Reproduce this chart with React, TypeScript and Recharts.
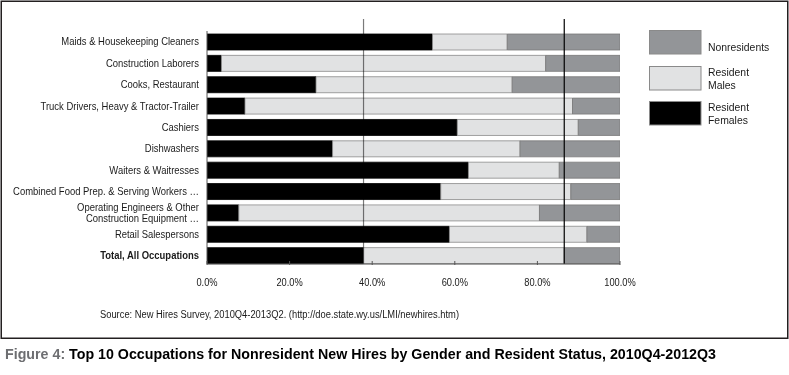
import React from "react";
import { BarChart, Bar, XAxis, YAxis, ReferenceLine } from "recharts";

const categories = [
  "Maids & Housekeeping Cleaners",
  "Construction Laborers",
  "Cooks, Restaurant",
  "Truck Drivers, Heavy & Tractor-Trailer",
  "Cashiers",
  "Dishwashers",
  "Waiters & Waitresses",
  "Combined Food Prep. & Serving Workers \u2026",
  "Operating Engineers & Other \nConstruction Equipment \u2026",
  "Retail Salespersons",
  "Total, All Occupations",
];

const residentFemales = [54.6, 3.5, 26.4, 9.2, 60.6, 30.4, 63.3, 56.6, 7.7, 58.7, 37.9];
const residentMales = [18.1, 78.5, 47.5, 79.3, 29.3, 45.4, 22.0, 31.5, 72.8, 33.3, 48.6];
const nonresidents = [27.3, 18.0, 26.1, 11.5, 10.1, 24.2, 14.7, 11.9, 19.5, 8.0, 13.5];

const xTicks = [0, 20, 40, 60, 80, 100];

const series = [
  { key: "females", name: "Resident Females", color: "#000000", stroke: "#000000" },
  { key: "males", name: "Resident Males", color: "#e1e2e3", stroke: "#8a8a8a" },
  { key: "nonres", name: "Nonresidents", color: "#939598", stroke: "#7a7a7a" },
];

const legendOrder = [
  { name: "Nonresidents", lines: ["Nonresidents"], color: "#939598" },
  { name: "Resident Males", lines: ["Resident", "Males"], color: "#e1e2e3" },
  { name: "Resident Females", lines: ["Resident", "Females"], color: "#000000" },
];

const data = categories.map((c, i) => ({
  category: c,
  females: residentFemales[i],
  males: residentMales[i],
  nonres: nonresidents[i],
}));

const lastIdx = categories.length - 1;
const totalFemale = residentFemales[lastIdx];
const totalResident = residentFemales[lastIdx] + residentMales[lastIdx];

const FONT = "'Liberation Sans', Arial, sans-serif";
const SX = 0.845;

const YTick = (props: any) => {
  const { x, y, payload, index } = props;
  const lines: string[] = String(payload.value).split("\n");
  const bold = index === lastIdx || payload.value === "Total, All Occupations";
  const lh = 11.5;
  const start = -((lines.length - 1) * lh) / 2;
  return (
    <g transform={`translate(${x},${y})`}>
      <g transform={`scale(${SX},1)`}>
        {lines.map((l, i) => (
          <text
            key={i}
            x={0}
            y={start + i * lh}
            textAnchor="end"
            dominantBaseline="central"
            fontFamily={FONT}
            fontSize={11.2}
            fontWeight={bold ? 700 : 400}
            fill="#1a1a1a"
          >
            {l}
          </text>
        ))}
      </g>
    </g>
  );
};

const XTick = (props: any) => {
  const { x, y, payload } = props;
  return (
    <g transform={`translate(${x},${y})`}>
      <line x1={0} x2={0} y1={-11} y2={-7} stroke="#555" strokeWidth={1} />
      <g transform={`scale(${SX},1)`}>
        <text
          x={0}
          y={10}
          textAnchor="middle"
          dominantBaseline="central"
          fontFamily={FONT}
          fontSize={11}
          fill="#1a1a1a"
        >
          {Number(payload.value).toFixed(1) + "%"}
        </text>
      </g>
    </g>
  );
};

const makeRefShape = (color: string, blend: boolean) => (p: any) => {
  const top = Math.min(p.y1, p.y2) - 12;
  const bottom = Math.max(p.y1, p.y2);
  return (
    <line
      x1={p.x1}
      x2={p.x2}
      y1={top}
      y2={bottom}
      stroke={color}
      strokeWidth={1.2}
      style={blend ? { mixBlendMode: "multiply" } : undefined}
    />
  );
};

export default function App() {
  return (
    <div
      style={{
        position: "absolute",
        left: 0,
        top: 0,
        width: 789,
        height: 375,
        background: "#ffffff",
        overflow: "hidden",
      }}
    >
      <svg width={789} height={375} style={{ position: "absolute", left: 0, top: 0 }}>
        <rect x={1.25} y={1.25} width={786.5} height={337} fill="#ffffff" stroke="#231f20" strokeWidth={1.5} />
        {legendOrder.map((item, i) => {
          const tops = [30, 66, 101];
          const t = tops[i];
          return (
            <g key={item.name}>
              <rect x={649.5} y={t + 0.5} width={51.5} height={23.5} fill={item.color} stroke="#8a8a8a" strokeWidth={1} />
              {item.lines.map((l, j) => {
                const n = item.lines.length;
                const cy = t + 12.5 + (j - (n - 1) / 2) * 12.5 + (n === 1 ? 4 : 0);
                return (
                  <g key={j} transform={`translate(708,${cy})`}>
                    <g transform={`scale(0.93,1)`}>
                      <text x={0} y={0} dominantBaseline="central" fontFamily={FONT} fontSize={11.2} fill="#1a1a1a">
                        {l}
                      </text>
                    </g>
                  </g>
                );
              })}
            </g>
          );
        })}
        <text
          x={100}
          y={318}
          fontFamily={FONT}
          fontSize={10}
          fill="#1a1a1a"
          textLength={359}
          lengthAdjust="spacingAndGlyphs"
        >
          Source: New Hires Survey, 2010Q4-2013Q2. (http://doe.state.wy.us/LMI/newhires.htm)
        </text>
        <text
          x={5}
          y={359}
          fontFamily={FONT}
          fontSize={14.5}
          fontWeight={700}
          textLength={711}
          lengthAdjust="spacingAndGlyphs"
        >
          <tspan fill="#6d6e71" fontWeight={600}>Figure 4: </tspan>
          <tspan fill="#000000">Top 10 Occupations for Nonresident New Hires by Gender and Resident Status, 2010Q4-2012Q3</tspan>
        </text>
      </svg>
      <div style={{ position: "absolute", left: 0, top: 0 }}>
        <BarChart
          width={789}
          height={300}
          data={data}
          layout="vertical"
          margin={{ top: 31, right: 169, bottom: 6, left: 7 }}
          barSize={16}
        >
          <XAxis
            type="number"
            domain={[0, 100]}
            ticks={xTicks}
            tick={<XTick />}
            tickLine={false}
            tickSize={6}
            tickMargin={2}
            height={30}
            axisLine={{ stroke: "#555", strokeWidth: 1 }}
            interval={0}
            allowDataOverflow
          />
          <YAxis
            type="category"
            dataKey="category"
            width={200}
            tick={<YTick />}
            tickLine={false}
            tickSize={6}
            tickMargin={2}
            axisLine={{ stroke: "#555", strokeWidth: 1 }}
            interval={0}
            padding={{ top: 0, bottom: -2 }}
          />
          {series.map((s) => (
            <Bar
              key={s.key}
              dataKey={s.key}
              name={s.name}
              stackId="a"
              fill={s.color}
              stroke={s.stroke}
              strokeWidth={0.8}
              isAnimationActive={false}
            />
          ))}
          <ReferenceLine x={totalFemale} stroke="#7a7a7a" shape={makeRefShape("#7a7a7a", true)} ifOverflow="visible" />
          <ReferenceLine x={totalResident} stroke="#000" shape={makeRefShape("#000000", false)} ifOverflow="visible" />
        </BarChart>
      </div>
    </div>
  );
}
